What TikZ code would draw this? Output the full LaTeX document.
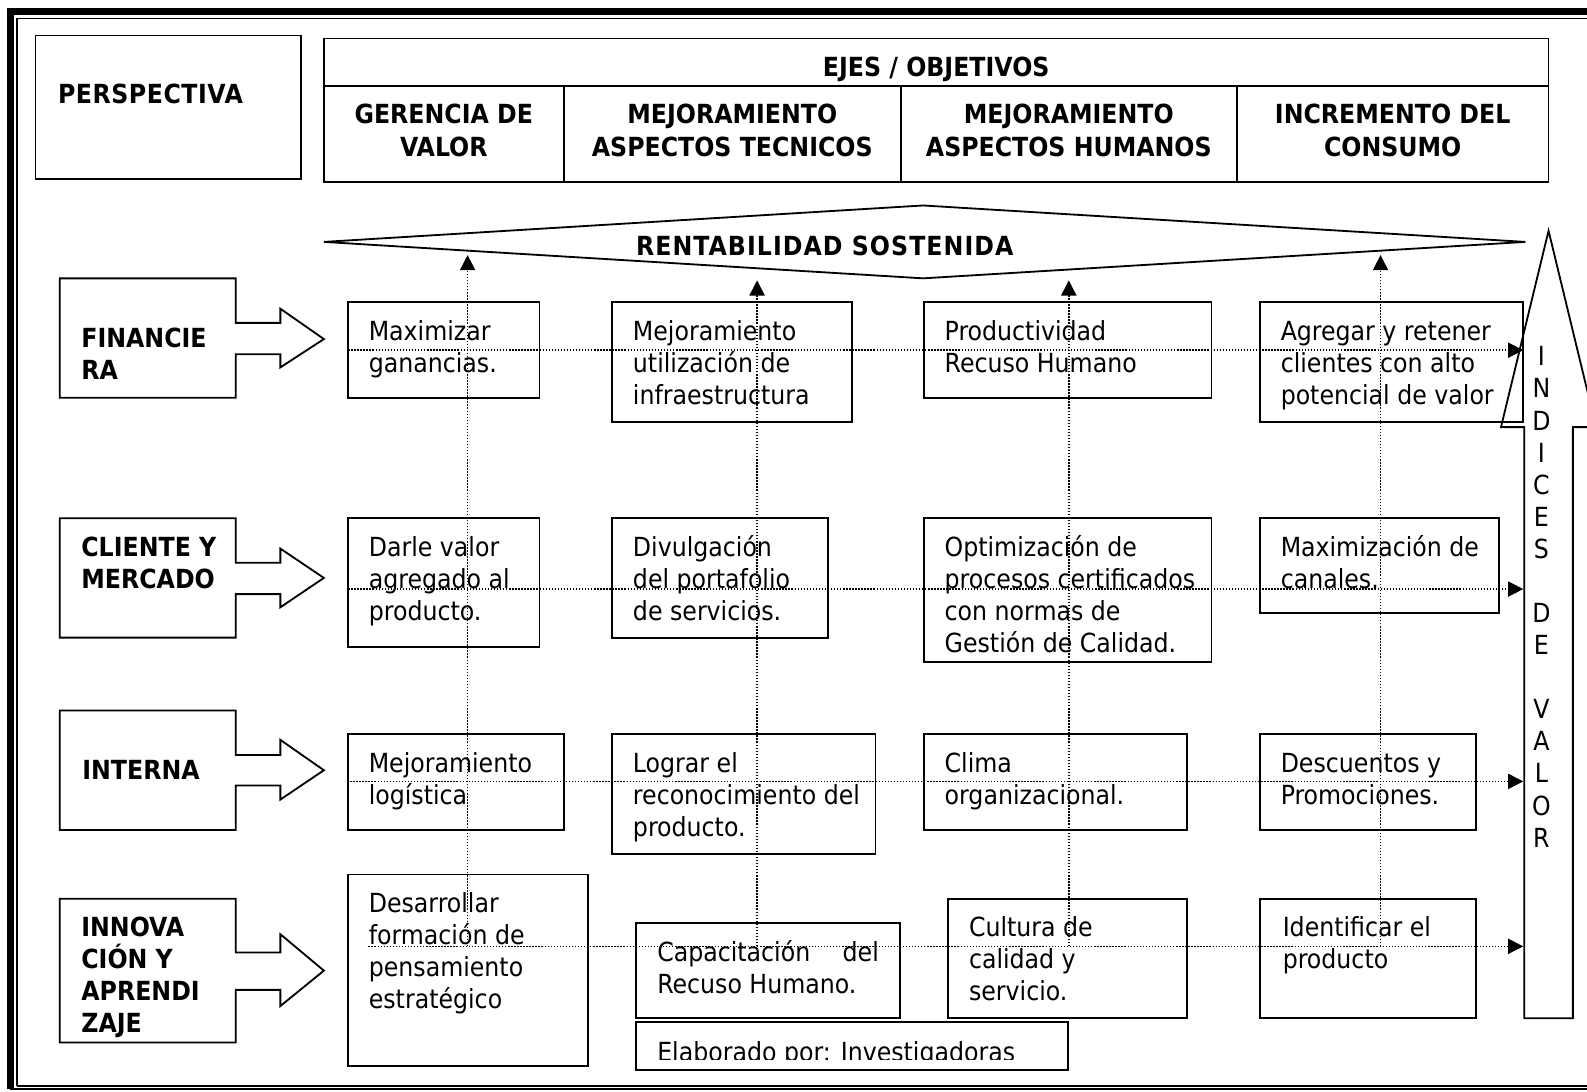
\documentclass[tikz,border=0pt]{standalone}
\usepackage{fontspec}
\setmainfont{DejaVu Sans Condensed}
\usetikzlibrary{arrows.meta}
\newcommand\fs{\fontsize{13pt}{15.85pt}\selectfont}
\newcommand\tl[1]{\parbox[t]{300pt}{\fs\raggedright #1}}
\newcommand\tc[1]{\parbox[t]{300pt}{\fs\centering #1}}
\tikzset{
  ln/.style={line width=0.9pt},
  bx/.style={ln, draw, inner sep=0pt},
  txt/.style={anchor=base west, inner sep=0pt},
  ctxt/.style={anchor=base, inner sep=0pt},
  dots/.style={line width=0.7pt, dash pattern=on 0.7pt off 0.8pt},
  tipd/.style={-{Triangle[length=7.5pt,width=7.5pt]}},
}
\newcommand\mbx[5]{\node[bx, minimum width={(#4-#2)*0.5pt}, minimum height={(#5-#3)*0.5pt}] (#1) at ({(#2+#4)/2},{(#3+#5)/2}) {};}
\newcommand\barrow[7]{\draw[ln] (59,#1) -- (233,#1) -- (233,#3) -- (277,#3) -- (277,#5) -- (320,#7) -- (277,#6) -- (277,#4) -- (233,#4) -- (233,#2) -- (59,#2) -- cycle;}
\begin{document}
\begin{tikzpicture}[x=0.5pt,y=-0.5pt]
\useasboundingbox (0,0) rectangle (1568,1078);
% frame
\draw[line width=3.5pt] (10,1076) -- (10,11) -- (1600,11);
\draw[line width=0.7pt] (10,1076) -- (1600,1076);
\draw[line width=0.7pt] (17,1073) -- (17,18) -- (1600,18);
\draw[line width=0.7pt] (17,1073) -- (1600,1073);
% perspectiva
\mbx{persp}{35}{35}{297}{177}
\node[txt] (tpersp) at (57,102.5) {\tl{\bfseries\addfontfeature{LetterSpace=2} PERSPECTIVA}};
% header table
\mbx{head}{320}{38}{1530}{180}
\draw[ln] (320,85) -- (1530,85);
\draw[ln] (557,85) -- (557,180);
\draw[ln] (890,85) -- (890,180);
\draw[ln] (1222,85) -- (1222,180);
\node[ctxt] (ejes) at (925,75.5) {\tc{\bfseries EJES / OBJETIVOS}};
\node[ctxt] (h1) at (438.5,122.5) {\tc{\bfseries GERENCIA DE\\VALOR}};
\node[ctxt] (h2) at (723.5,122.5) {\tc{\bfseries MEJORAMIENTO\\ASPECTOS TECNICOS}};
\node[ctxt] (h3) at (1056,122.5) {\tc{\bfseries MEJORAMIENTO\\ASPECTOS HUMANOS}};
\node[ctxt] (h4) at (1376,122.5) {\tc{\bfseries INCREMENTO DEL\\CONSUMO}};
% rentabilidad
\draw[ln] (320,239) -- (912,203) -- (1507,239) -- (912,275) -- cycle;
\node[txt] (rent) at (628,252.5) {\tl{\bfseries\addfontfeature{LetterSpace=4} RENTABILIDAD SOSTENIDA}};
% indices arrow
\draw[ln] (1506,1006) -- (1506,422) -- (1483,422) -- (1530,228) -- (1577,422) -- (1554,422) -- (1554,1006) -- cycle;
\node[ctxt] (ind) at (1523,361.5) {\tc{I\\N\\D\\I\\C\\E\\S\\\mbox{}\\D\\E\\\mbox{}\\V\\A\\L\\O\\R}};
% perspective block arrows
\barrow{275}{393}{319}{350}{305}{363}{335}
\node[txt] (p1) at (80,343.5) {\tl{\bfseries FINANCIE\\RA}};
\barrow{512}{630}{556}{587}{542}{600}{571}
\node[txt] (p2) at (80,549.5) {\tl{\bfseries CLIENTE Y\\MERCADO}};
\barrow{702}{820}{746}{776}{731}{790}{761}
\node[txt] (p3) at (81,770.5) {\tl{\bfseries INTERNA}};
\barrow{888}{1030}{941}{978}{923}{994}{959}
\node[txt] (p4) at (80,925.5) {\tl{\bfseries INNOVA\\CIÓN Y\\APRENDI\\ZAJE}};
% content boxes row 1
\mbx{b11}{344}{298}{533}{393}
\node[txt] (t11) at (364,336.5) {\tl{Maximizar\\ganancias.}};
\mbx{b12}{605}{298}{842}{417}
\node[txt] (t12) at (625,336.5) {\tl{Mejoramiento\\utilización de\\infraestructura}};
\mbx{b13}{913}{298}{1197}{393}
\node[txt] (t13) at (933,336.5) {\tl{Productividad\\Recuso Humano}};
\mbx{b14}{1245}{298}{1505}{417}
\node[txt] (t14) at (1265,336.5) {\tl{Agregar y retener\\clientes con alto\\potencial de valor}};
% row 2
\mbx{b21}{344}{512}{533}{639}
\node[txt] (t21) at (364,549.5) {\tl{Darle valor\\agregado al\\producto.}};
\mbx{b22}{605}{512}{818}{630}
\node[txt] (t22) at (625,549.5) {\tl{Divulgación\\del portafolio\\de servicios.}};
\mbx{b23}{913}{512}{1197}{654}
\node[txt] (t23) at (933,549.5) {\tl{Optimización de\\procesos certificados\\con normas de\\Gestión de Calidad.}};
\mbx{b24}{1245}{512}{1481}{606}
\node[txt] (t24) at (1265,549.5) {\tl{Maximización de\\canales.}};
% row 3
\mbx{b31}{344}{725}{557}{820}
\node[txt] (t31) at (364,763.5) {\tl{Mejoramiento\\logística}};
\mbx{b32}{605}{725}{865}{844}
\node[txt] (t32) at (625,763.5) {\tl{Lograr el\\reconocimiento del\\producto.}};
\mbx{b33}{913}{725}{1173}{820}
\node[txt] (t33) at (933,763.5) {\tl{Clima\\organizacional.}};
\mbx{b34}{1245}{725}{1458}{820}
\node[txt] (t34) at (1265,763.5) {\tl{Descuentos y\\Promociones.}};
% row 4
\mbx{b41}{344}{864}{581}{1053}
\node[txt] (t41) at (364,901.5) {\tl{Desarrollar\\formación de\\pensamiento\\estratégico}};
\mbx{b42}{628}{912}{889}{1006}
\node[txt] (t42) at (649,949.5) {\tl{\makebox[109.5pt][l]{Capacitación\hfill del}\\Recuso Humano.}};
\mbx{b43}{937}{888}{1173}{1006}
\node[txt] (t43) at (957,925.5) {\tl{Cultura de\\calidad y\\servicio.}};
\mbx{b44}{1245}{888}{1458}{1006}
\node[txt] (t44) at (1267,925.5) {\tl{Identificar el\\producto}};
% elaborado
\mbx{elab}{628}{1010}{1055}{1057}
\begin{scope}
\clip (628,1012) rectangle (1055,1047);
\node[txt] (telab) at (649,1049) {\tl{Elaborado por: Investigadoras}};
\end{scope}
% dotted connectors
\coordinate (v1s) at (462,935); \coordinate (v1e) at (462,252);
\coordinate (v2s) at (748,935); \coordinate (v2e) at (748,277);
\coordinate (v3s) at (1056,935); \coordinate (v3e) at (1056,277);
\coordinate (v4s) at (1364,935); \coordinate (v4e) at (1364,252);
\draw[dots,tipd] (v1s) -- (v1e);
\draw[dots,tipd] (v2s) -- (v2e);
\draw[dots,tipd] (v3s) -- (v3e);
\draw[dots,tipd] (v4s) -- (v4e);
\coordinate (r1s) at (344,346); \coordinate (r1e) at (1505,346);
\coordinate (r2s) at (344,582); \coordinate (r2e) at (1505,582);
\coordinate (r3s) at (346,772); \coordinate (r3e) at (1505,772);
\coordinate (r4s) at (364,935); \coordinate (r4e) at (1505,935);
\draw[dots,tipd] (r1s) -- (r1e);
\draw[dots,tipd] (r2s) -- (r2e);
\draw[dots,tipd] (r3s) -- (r3e);
\draw[dots,tipd] (r4s) -- (r4e);
\end{tikzpicture}
\end{document}
